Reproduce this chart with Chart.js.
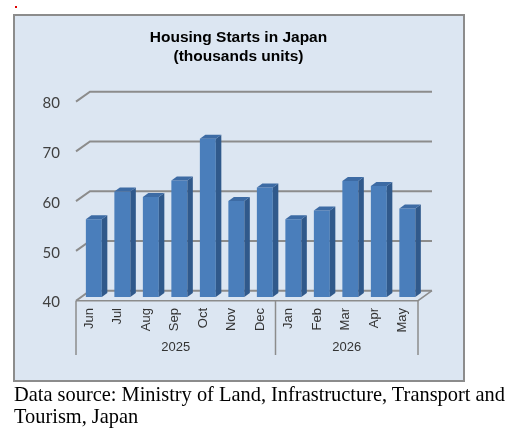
<!DOCTYPE html>
<html>
<head>
<meta charset="utf-8">
<script src="https://cdn.jsdelivr.net/npm/chart.js@4.4.1/dist/chart.umd.min.js"></script>
<style>
  html, body { margin: 0; padding: 0; background: #fff; }
  body { width: 515px; height: 435px; position: relative; overflow: hidden; }
  #dot { position: absolute; left: 15px; top: 6px; width: 2px; height: 2px; background: #e00000; }
  #panel { position: absolute; left: 13px; top: 14px; width: 448px; height: 364px;
           background: #dce6f2; border: 2px solid #8c8c8c; }
  #wrap { position: absolute; left: 0; top: 0; width: 515px; height: 435px; }
  #source { position: absolute; left: 14px; top: 383px; font-family: "Liberation Serif", "Times New Roman", serif;
            font-size: 20.4px; line-height: 22px; color: #000; white-space: nowrap; }
</style>
</head>
<body>
<div id="dot"></div>
<div id="panel"></div>
<div id="wrap"><canvas id="chart"></canvas></div>
<div id="source">Data source: Ministry of Land, Infrastructure, Transport and<br>Tourism, Japan</div>
<script>
// data
const months = ['Jun', 'Jul', 'Aug', 'Sep', 'Oct', 'Nov', 'Dec', 'Jan', 'Feb', 'Mar', 'Apr', 'May'];
const starts = [55.6, 61.2, 60.1, 63.4, 71.8, 59.3, 62.0, 55.6, 57.4, 63.3, 62.3, 57.8];
const years = ['2025', '2026'];
const monthsPerYear = [7, 5];
const yTicks = [40, 50, 60, 70, 80];

// fake 3d: offsets from the bar (front) plane
const floorOff = { x: -3.6, y: 3.7 };
const wallOff = { x: 10.4, y: -6.3 };
const barDepth = { x: 5.5, y: -4 };
const gridColor = '#8c8c8c';

const fake3d = {
    id: 'fake3d',
    beforeDatasetsDraw(chart) {
        const { ctx, chartArea: { left, right, bottom }, scales: { x, y } } = chart;
        ctx.save();
        ctx.strokeStyle = gridColor;
        ctx.lineWidth = 2;
        yTicks.forEach(v => {
            const py = y.getPixelForValue(v);
            ctx.beginPath();
            ctx.moveTo(left + floorOff.x, py + floorOff.y);
            ctx.lineTo(left + wallOff.x, py + wallOff.y);
            ctx.lineTo(right + wallOff.x, py + wallOff.y);
            ctx.stroke();
        });
        // floor edge
        ctx.lineWidth = 1.5;
        ctx.beginPath();
        ctx.moveTo(left + floorOff.x, bottom + floorOff.y);
        ctx.lineTo(right + floorOff.x, bottom + floorOff.y);
        ctx.lineTo(right + wallOff.x, bottom + wallOff.y);
        ctx.stroke();

        // category box: dividers and year labels
        const catW = (right - left) / months.length;
        let start = 0;
        const edges = [left];
        ctx.fillStyle = '#333';
        ctx.font = '13px "Liberation Sans", Arial, sans-serif';
        ctx.textAlign = 'center';
        ctx.textBaseline = 'middle';
        years.forEach((yr, i) => {
            const a = x.getPixelForValue(start), b = x.getPixelForValue(start + monthsPerYear[i] - 1);
            ctx.fillText(yr, (a + b) / 2 + floorOff.x, bottom + 50);
            start += monthsPerYear[i];
            edges.push(left + start * catW);
        });
        ctx.lineWidth = 1.5;
        edges.forEach(ex => {
            ctx.beginPath();
            ctx.moveTo(ex + floorOff.x, bottom + floorOff.y);
            ctx.lineTo(ex + floorOff.x, bottom + 58);
            ctx.stroke();
        });
        ctx.restore();
    },
    afterDatasetsDraw(chart) {
        const { ctx, chartArea } = chart;
        ctx.save();
        chart.getDatasetMeta(0).data.forEach(bar => {
            const { x, y, width } = bar.getProps(['x', 'y', 'width'], true);
            const base = chartArea.bottom;
            const l = x - width / 2, r = x + width / 2;
            ctx.fillStyle = '#30598b';
            ctx.beginPath();
            ctx.moveTo(r, y);
            ctx.lineTo(r + barDepth.x, y + barDepth.y);
            ctx.lineTo(r + barDepth.x, base + barDepth.y);
            ctx.lineTo(r, base);
            ctx.closePath();
            ctx.fill();
            ctx.fillStyle = '#3d6ba4';
            ctx.beginPath();
            ctx.moveTo(l, y);
            ctx.lineTo(l + barDepth.x, y + barDepth.y);
            ctx.lineTo(r + barDepth.x, y + barDepth.y);
            ctx.lineTo(r, y);
            ctx.closePath();
            ctx.fill();
        });
        ctx.restore();
    }
};

new Chart(document.getElementById('chart').getContext('2d'), {
    type: 'bar',
    data: {
        labels: months,
        datasets: [{
            label: 'Housing starts',
            data: starts,
            backgroundColor: '#4a7ebb',
            borderWidth: 0,
            barPercentage: 0.56,
            categoryPercentage: 1
        }]
    },
    options: {
        responsive: true,
        maintainAspectRatio: false,
        animation: false,
        layout: { padding: { left: 0, right: 38, top: 0, bottom: 0 } },
        plugins: {
            legend: { display: false },
            tooltip: { enabled: false },
            title: {
                display: true,
                text: ['Housing Starts in Japan', '(thousands units)'],
                color: '#000',
                font: { family: '"Liberation Sans", Arial, sans-serif', size: 15.5, weight: 'bold', lineHeight: 1.25 },
                padding: { top: 27.9, bottom: 31.3 }
            }
        },
        scales: {
            y: {
                min: 40,
                max: 80,
                afterFit: s => { s.width = 79.6; },
                afterBuildTicks: s => { s.ticks = yTicks.map(v => ({ value: v })); },
                border: { display: false },
                grid: { display: false, drawTicks: false },
                ticks: {
                    color: '#404040',
                    font: { family: 'Lato, "Open Sans", sans-serif', size: 15 },
                    padding: 19.6,
                    labelOffset: 5.5
                }
            },
            // empty right-hand axis, only keeps the plot clear of the right wall
            yRight: {
                type: 'linear',
                position: 'right',
                afterFit: s => { s.width = 55.4; },
                border: { display: false },
                grid: { display: false, drawTicks: false },
                ticks: { display: false }
            },
            x: {
                afterFit: s => { s.height = 138; },
                border: { display: false },
                grid: { display: false, drawTicks: false },
                ticks: {
                    color: '#333',
                    font: { family: '"Liberation Sans", Arial, sans-serif', size: 13 },
                    minRotation: 90,
                    maxRotation: 90,
                    autoSkip: false,
                    padding: 11,
                    labelOffset: -4.5
                }
            }
        }
    },
    plugins: [fake3d]
});
</script>
</body>
</html>
